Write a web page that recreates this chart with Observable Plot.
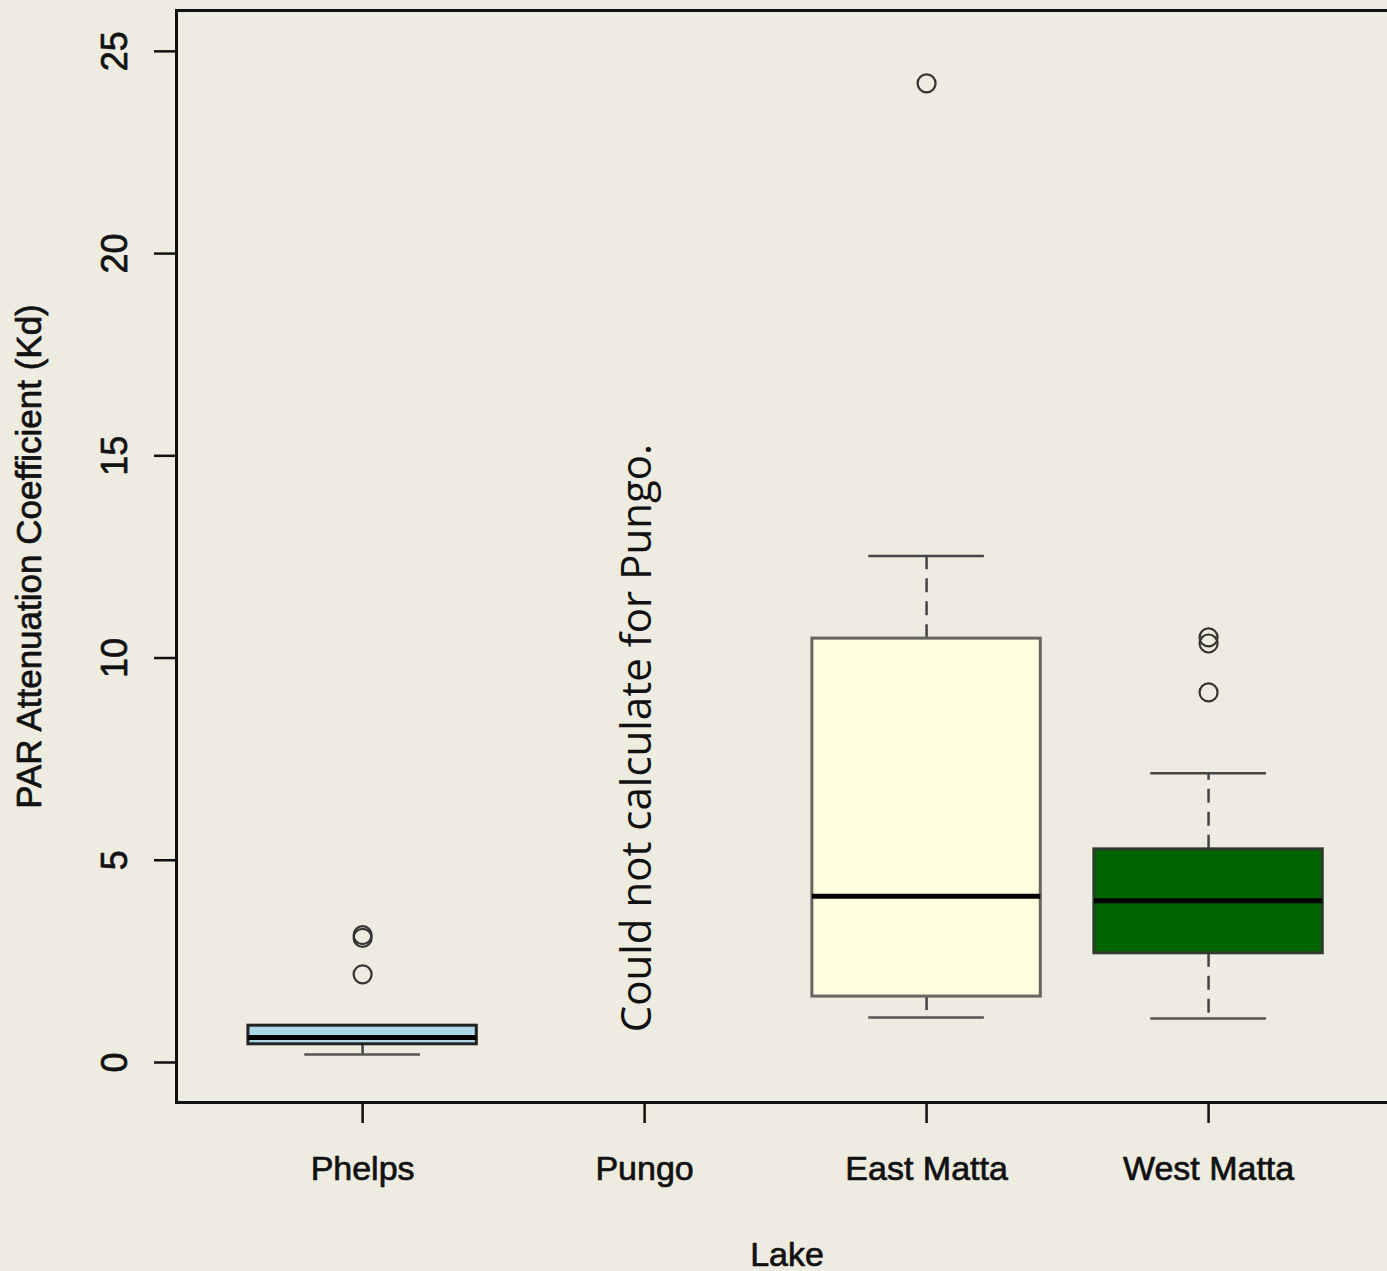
<!DOCTYPE html>
<html>
<head>
<meta charset="utf-8">
<script src="https://cdn.jsdelivr.net/npm/d3@7"></script>
<script src="https://cdn.jsdelivr.net/npm/@observablehq/plot@0.6"></script>
<style>
  html, body { margin: 0; padding: 0; background: #EEEBE0; overflow: hidden; }
  #chart svg { display: block; max-width: none; }
</style>
</head>
<body>
<div id="chart"></div>
<script>
// ---- Data ----
const lakes = ["Phelps", "Pungo", "East Matta", "West Matta"];
const lowerWhisker = [0.20, null, 1.11, 1.09];
const q1           = [0.45, null, 1.63, 2.70];
const medians      = [0.62, null, 4.11, 4.00];
const q3           = [0.91, null, 10.48, 5.27];
const upperWhisker = [0.91, null, 12.52, 7.15];
const boxFills     = ["#ADD8E6", null, "#FFFFE0", "#006400"];
const boxStrokes   = ["#222", null, "#66665e", "#2f3a2f"];
const outlierLake  = ["Phelps", "Phelps", "Phelps", "East Matta", "West Matta", "West Matta", "West Matta"];
const outlierValue = [3.15, 3.08, 2.18, 24.21, 10.51, 10.36, 9.15];
const yTicks = [0, 5, 10, 15, 20, 25];
const noteText = "Could not calculate for Pungo.";
const noteLake = "Pungo";
const noteValue = 8.02;
const yTitle = "PAR Attenuation Coefficient (Kd)";
const xTitle = "Lake";

// ---- Tables built from the arrays ----
const boxes = lakes.map((lake, k) => ({
  i: k + 1, lake, lo: lowerWhisker[k], q1: q1[k], med: medians[k], q3: q3[k], hi: upperWhisker[k],
  fill: boxFills[k], stroke: boxStrokes[k]
})).filter(d => d.med != null);
const outliers = outlierLake.map((lake, k) => ({i: lakes.indexOf(lake) + 1, value: outlierValue[k]}));
const notes = [{i: lakes.indexOf(noteLake) + 1, value: noteValue, text: noteText}];

const halfBox = 0.405, halfCap = 0.205;
const ink = "#111";

const chart = Plot.plot({
  width: 1387,
  height: 1271,
  marginLeft: 176,
  marginRight: -10,
  marginTop: 10,
  marginBottom: 169,
  style: {background: "#EEEBE0", fontFamily: "'Liberation Sans', Arial, sans-serif", color: ink},
  x: {domain: [0.34, 4.67], axis: null},
  y: {domain: [-0.989, 26.01], axis: null},
  marks: [
    // whiskers (dashed)
    Plot.ruleX(boxes, {x: "i", y1: "q3", y2: "hi", stroke: "#444", strokeWidth: 2.5, strokeDasharray: "14,9"}),
    Plot.ruleX(boxes, {x: "i", y1: "q1", y2: "lo", stroke: "#444", strokeWidth: 2.5, strokeDasharray: "14,9"}),
    // whisker caps
    Plot.ruleY(boxes, {y: "hi", x1: d => d.i - halfCap, x2: d => d.i + halfCap, stroke: "#444", strokeWidth: 2.5}),
    Plot.ruleY(boxes, {y: "lo", x1: d => d.i - halfCap, x2: d => d.i + halfCap, stroke: "#555", strokeWidth: 2.5}),
    // boxes
    Plot.rect(boxes, {x1: d => d.i - halfBox, x2: d => d.i + halfBox, y1: "q1", y2: "q3", fill: "fill", stroke: "stroke", strokeWidth: 3}),
    // medians
    Plot.ruleY(boxes, {y: "med", x1: d => d.i - halfBox, x2: d => d.i + halfBox, stroke: "#000", strokeWidth: 5}),
    // outliers
    Plot.dot(outliers, {x: "i", y: "value", r: 9, fill: "none", stroke: "#333", strokeWidth: 2.2}),
    // annotation
    Plot.text(notes, {x: "i", y: "value", text: "text", rotate: -90, lineAnchor: "bottom", dx: 6, fontSize: 42, fontFamily: "'Open Sans', sans-serif", fill: ink}),
    // frame
    Plot.frame({stroke: ink, strokeWidth: 3}),
    // axes
    Plot.axisY(yTicks, {tickSize: 22, tickPadding: 28, tickRotate: -90, fontSize: 36, color: ink, strokeWidth: 2.5, label: null,
      textStroke: ink, textStrokeWidth: 0.7}),
    Plot.axisX([1, 2, 3, 4], {tickFormat: i => lakes[i - 1], tickSize: 21, tickPadding: 32, fontSize: 34, color: ink, strokeWidth: 2.5, label: null,
      textStroke: ink, textStrokeWidth: 0.7}),
    // axis titles
    Plot.text([yTitle], {frameAnchor: "left", textAnchor: "middle", dx: -136, rotate: -90, lineAnchor: "bottom", fontSize: 35, fill: ink, stroke: ink, strokeWidth: 0.7}),
    Plot.text([xTitle], {frameAnchor: "bottom", textAnchor: "middle", dy: 163, lineAnchor: "bottom", fontSize: 34, fill: ink, stroke: ink, strokeWidth: 0.7})
  ]
});
document.getElementById("chart").append(chart);
</script>
</body>
</html>
